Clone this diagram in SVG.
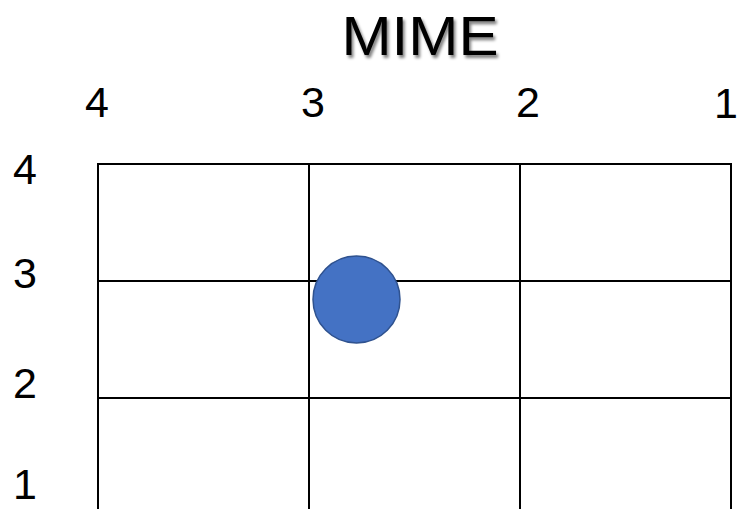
<svg xmlns="http://www.w3.org/2000/svg" width="740" height="509" viewBox="0 0 740 509">
<defs>
<filter id="sh" x="-10%" y="-20%" width="130%" height="160%">
<feGaussianBlur in="SourceAlpha" stdDeviation="1.5"/>
<feOffset dx="2" dy="3" result="o"/>
<feComponentTransfer><feFuncA type="linear" slope="0.5"/></feComponentTransfer>
<feMerge><feMergeNode/><feMergeNode in="SourceGraphic"/></feMerge>
</filter>
</defs>
<style>
.lbl{font-family:"Liberation Sans",Arial,sans-serif;font-size:43px;fill:#000;text-anchor:middle}
.grid{stroke:#000;stroke-width:2;fill:none}
</style>
<rect width="740" height="509" fill="#fff"/>
<text x="420" y="55" class="lbl" style="font-size:56px" textLength="157" lengthAdjust="spacingAndGlyphs" filter="url(#sh)">MIME</text>
<g id="top-labels">
<text x="97" y="117" class="lbl">4</text>
<text x="313" y="117" class="lbl">3</text>
<text x="528" y="117" class="lbl">2</text>
<text x="726" y="118" class="lbl">1</text>
</g>
<g id="left-labels">
<text x="25" y="184" class="lbl">4</text>
<text x="25" y="288" class="lbl">3</text>
<text x="25" y="398" class="lbl">2</text>
<text x="25" y="499" class="lbl">1</text>
</g>
<g id="grid" class="grid">
<line x1="98" y1="164" x2="731" y2="164"/>
<line x1="98" y1="281" x2="731" y2="281"/>
<line x1="98" y1="398" x2="731" y2="398"/>
<line x1="98" y1="163" x2="98" y2="509"/>
<line x1="309" y1="163" x2="309" y2="509"/>
<line x1="520" y1="163" x2="520" y2="509"/>
<line x1="731" y1="163" x2="731" y2="509"/>
</g>
<g id="dot">
<circle cx="356.5" cy="299.5" r="43.5" fill="#4472C4" stroke="#2F528F" stroke-width="1.5"/>
</g>
</svg>
